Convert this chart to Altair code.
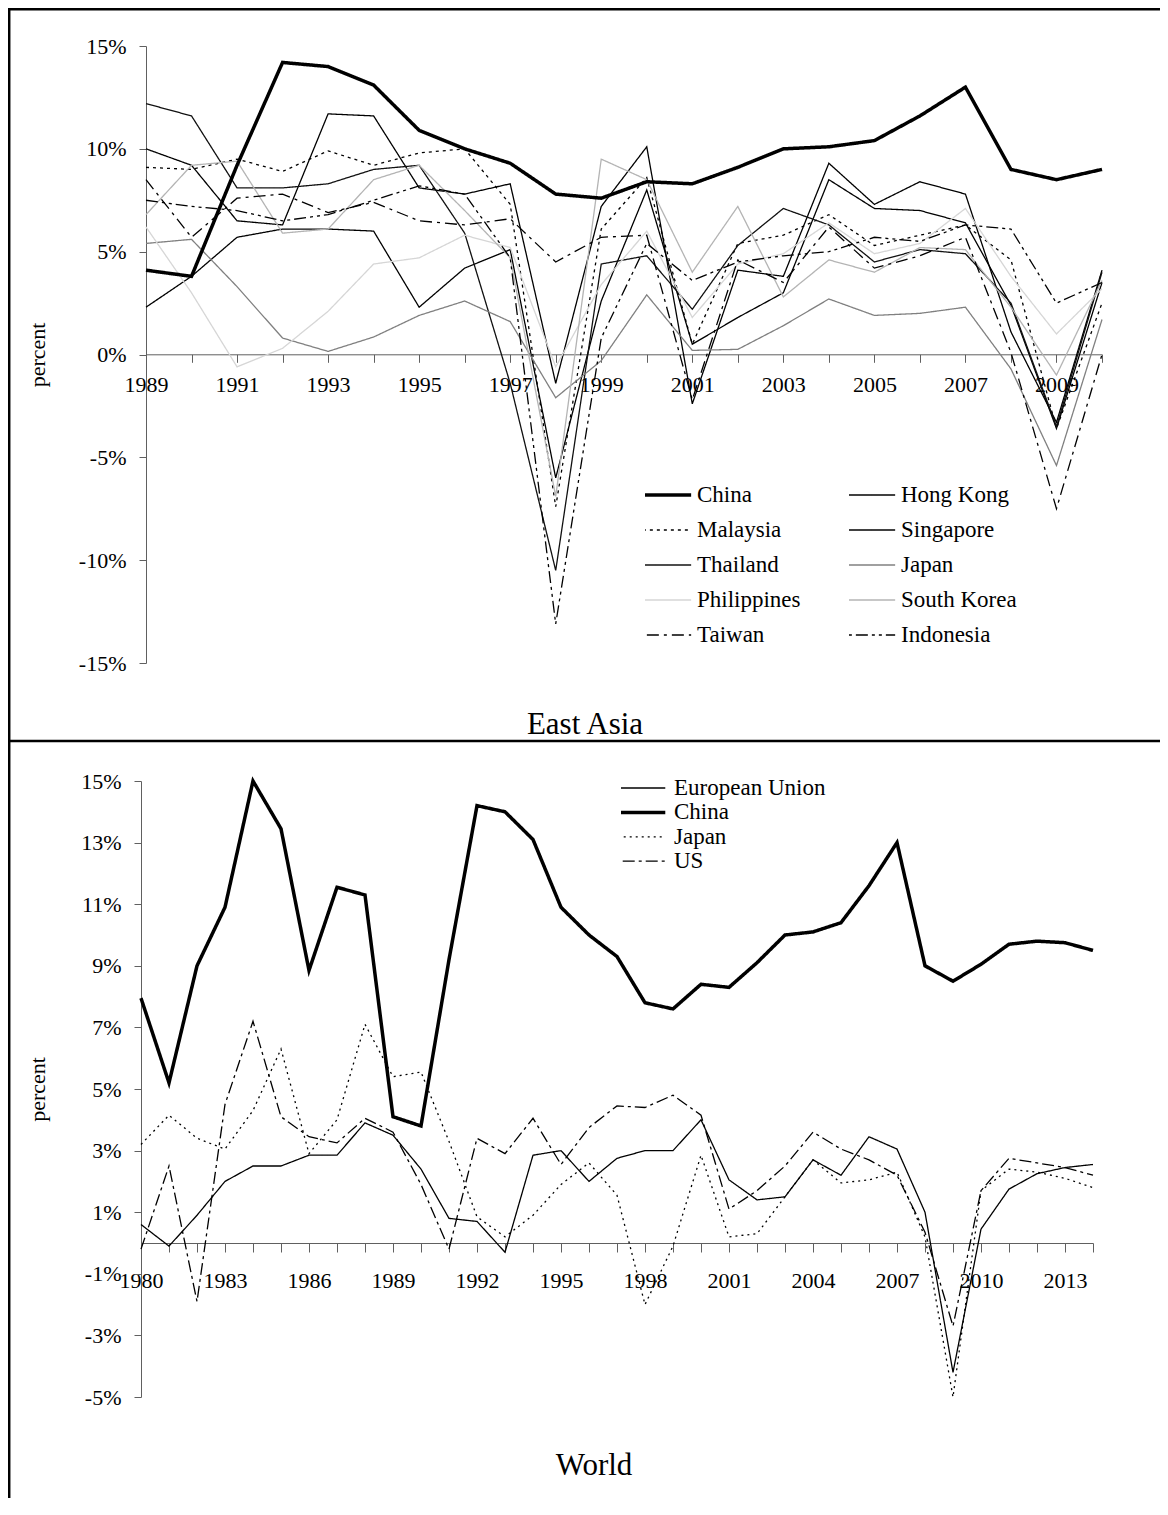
import altair as alt
import pandas as pd

# ---------------- East Asia panel data (1989-2010) ----------------
years_ea = list(range(1989, 2011))
china_ea = [4.1, 3.8, 9.2, 14.2, 14.0, 13.1, 10.9, 10.0, 9.3, 7.8, 7.6, 8.4, 8.3, 9.1, 10.0, 10.1, 10.4, 11.6, 13.0, 9.0, 8.5, 9.0]
hong_kong = [2.3, 3.8, 5.7, 6.1, 6.1, 6.0, 2.3, 4.2, 5.1, -6.0, 2.6, 8.0, 0.5, 1.8, 3.0, 8.5, 7.1, 7.0, 6.4, 2.4, -3.6, 3.5]
malaysia = [9.1, 9.0, 9.5, 8.9, 9.9, 9.2, 9.8, 10.0, 7.3, -7.4, 6.1, 8.6, 0.5, 5.4, 5.8, 6.8, 5.3, 5.8, 6.3, 4.6, -3.6, 2.5]
singapore = [10.0, 9.2, 6.5, 6.3, 11.7, 11.6, 8.1, 7.8, 8.3, -1.4, 7.2, 10.1, -2.4, 4.1, 3.8, 9.3, 7.3, 8.4, 7.8, 1.1, -3.3, 4.1]
thailand = [12.2, 11.6, 8.1, 8.1, 8.3, 9.0, 9.2, 5.9, -1.4, -10.5, 4.4, 4.8, 2.2, 5.3, 7.1, 6.3, 4.5, 5.1, 4.9, 2.5, -3.5, 4.0]
japan_ea = [5.4, 5.6, 3.3, 0.8, 0.15, 0.85, 1.9, 2.6, 1.6, -2.1, -0.3, 2.9, 0.2, 0.25, 1.4, 2.7, 1.9, 2.0, 2.3, -0.7, -5.4, 1.7]
philippines = [6.2, 3.0, -0.6, 0.3, 2.1, 4.4, 4.7, 5.8, 5.2, -0.6, 3.4, 6.0, 1.8, 4.4, 4.9, 6.4, 4.9, 5.4, 7.1, 3.8, 1.0, 3.2]
south_korea = [6.8, 9.2, 9.4, 5.9, 6.1, 8.5, 9.2, 7.0, 4.7, -6.9, 9.5, 8.5, 4.0, 7.2, 2.8, 4.6, 4.0, 5.2, 5.1, 2.3, -1.0, 3.6]
taiwan = [8.5, 5.7, 7.6, 7.8, 6.9, 7.4, 6.5, 6.3, 6.6, 4.5, 5.7, 5.8, -2.2, 4.6, 3.5, 6.2, 4.2, 4.8, 5.7, 0.1, -7.5, 0.0]
indonesia = [7.5, 7.2, 7.0, 6.5, 6.8, 7.5, 8.2, 7.8, 4.7, -13.1, 0.8, 5.4, 3.6, 4.5, 4.8, 5.0, 5.7, 5.5, 6.3, 6.1, 2.5, 3.5]

# ---------------- World panel data (1980-2014) ----------------
years_w = list(range(1980, 2015))
eu_w = [0.6, -0.1, 0.9, 2.0, 2.5, 2.5, 2.85, 2.85, 3.9, 3.5, 2.4, 0.8, 0.7, -0.3, 2.85, 3.0, 2.0, 2.75, 3.0, 3.0,
        4.0, 2.05, 1.4, 1.5, 2.7, 2.2, 3.45, 3.05, 1.0, -4.2, 0.45, 1.75, 2.25, 2.45, 2.55]
china_w = [7.95, 5.2, 9.0, 10.9, 15.0, 13.45, 8.85, 11.55, 11.3, 4.1, 3.8, 9.2, 14.2, 14.0, 13.1, 10.9, 10.0, 9.3, 7.8, 7.6,
           8.4, 8.3, 9.1, 10.0, 10.1, 10.4, 11.6, 13.0, 9.0, 8.5, 9.05, 9.7, 9.8, 9.75, 9.5]
japan_w = [3.2, 4.15, 3.4, 3.05, 4.3, 6.3, 2.9, 4.0, 7.1, 5.4, 5.55, 3.3, 0.85, 0.2, 0.9, 1.9, 2.6, 1.55, -2.0, -0.1,
           2.85, 0.2, 0.3, 1.5, 2.7, 1.95, 2.05, 2.3, 0.2, -5.0, 1.7, 2.4, 2.3, 2.1, 1.8]
us_w = [-0.2, 2.5, -1.9, 4.5, 7.2, 4.1, 3.45, 3.25, 4.05, 3.6, 1.9, -0.2, 3.4, 2.9, 4.05, 2.55, 3.75, 4.45, 4.4, 4.8,
        4.15, 1.1, 1.7, 2.5, 3.6, 3.05, 2.7, 2.2, 0.35, -2.7, 1.7, 2.75, 2.6, 2.45, 2.2]

ea_series = {
    "Hong Kong": hong_kong, "Malaysia": malaysia, "Singapore": singapore, "Thailand": thailand,
    "Japan": japan_ea, "Philippines": philippines, "South Korea": south_korea, "Taiwan": taiwan,
    "Indonesia": indonesia, "China": china_ea,
}
w_series = {"European Union": eu_w, "Japan": japan_w, "US": us_w, "China": china_w}


def long_df(years, series):
    rows = []
    for name, vals in series.items():
        for yr, v in zip(years, vals):
            rows.append({"year": yr, "country": name, "value": v})
    return pd.DataFrame(rows)


ea_df = long_df(years_ea, ea_series)
w_df = long_df(years_w, w_series)

# legend order (column-major fill for 2 columns)
ea_order = ["China", "Malaysia", "Thailand", "Philippines", "Taiwan",
            "Hong Kong", "Singapore", "Japan", "South Korea", "Indonesia"]
ea_colors = ["#000000", "#000000", "#111111", "#d6d6d6", "#000000",
             "#000000", "#000000", "#808080", "#b4b4b4", "#000000"]
ea_dashes = [[1, 0], [3, 4], [1, 0], [1, 0], [12, 5, 3, 5],
             [1, 0], [1, 0], [1, 0], [1, 0], [12, 4, 3, 4, 3, 4]]

w_order = ["European Union", "China", "Japan", "US"]
w_colors = ["#000000", "#000000", "#000000", "#000000"]
w_dashes = [[1, 0], [1, 0], [2, 4], [12, 4, 3, 4]]

FONT = "Liberation Serif"
W, H = 1152, 1490
AX = "#606060"

# ---------------- geometry (svg px) ----------------
ea_x_range = [138, 1094]
ea_y_range = [655, 38]
ea_zero_y = 346.3
w_x_range = [133, 1085]
w_y_range = [1389, 773]
w_zero_y = 1235

width_expr = "datum.country === 'China' ? 3.5 : 1.3"
legend_width_expr = "datum.value === 'China' ? 3.5 : 1.3"


def make_legend(x, y, cols, size, label_off, rowpad, colpad, clip):
    return alt.Legend(
        title=None, orient="none", legendX=x, legendY=y, direction="vertical", columns=cols,
        symbolType="stroke", symbolSize=size, symbolStrokeWidth=alt.ExprRef(legend_width_expr),
        labelFont=FONT, labelFontSize=23, labelColor="#000000", labelOffset=label_off, labelLimit=400,
        rowPadding=rowpad, columnPadding=colpad, padding=0, clipHeight=clip,
    )


ea_legend = make_legend(637, 475, 2, 4800, 29, 11, 48, 24)
w_legend = make_legend(613, 768, 1, 4300, 30, 0.4, 10, 24)


def x_axis(offset, values, start, step, pad, tick):
    return alt.Axis(
        orient="bottom", offset=offset, values=values, title=None, grid=False,
        labelExpr=f"(datum.value - {start}) % {step} === 0 ? '' + datum.value : ''",
        labelFont=FONT, labelFontSize=22, labelColor="#000000", labelPadding=pad,
        labelOverlap=False, labelFlush=False, labelBound=False,
        tickSize=tick, tickColor=AX, domainColor=AX, tickWidth=1, domainWidth=1,
    )


def y_axis(offset, values, title_x, title_y):
    return alt.Axis(
        orient="left", offset=offset, values=values, grid=False,
        labelExpr="datum.value + '%'",
        labelFont=FONT, labelFontSize=22, labelColor="#000000", labelPadding=13,
        labelOverlap=False, labelFlush=False,
        tickSize=7, tickColor=AX, domainColor=AX, tickWidth=1, domainWidth=1,
        title="percent", titleFont=FONT, titleFontSize=22, titleFontWeight="normal",
        titleColor="#000000", titleX=title_x, titleY=title_y, titleAngle=270,
        titleAlign="center", titleBaseline="middle",
    )


ea_lines = alt.Chart(ea_df).transform_calculate(w=width_expr).mark_line().encode(
    x=alt.X("year:Q", scale=alt.Scale(domain=[1989, 2010], range=ea_x_range, nice=False, zero=False),
            axis=x_axis(-(H - ea_zero_y), years_ea, 1989, 2, 12, 8)),
    y=alt.Y("value:Q", scale=alt.Scale(domain=[-15, 15], range=ea_y_range, nice=False, zero=False),
            axis=y_axis(-ea_x_range[0], [-15, -10, -5, 0, 5, 10, 15], -109, (ea_y_range[0] + ea_y_range[1]) / 2)),
    color=alt.Color("country:N", scale=alt.Scale(domain=ea_order, range=ea_colors), legend=ea_legend),
    strokeDash=alt.StrokeDash("country:N", scale=alt.Scale(domain=ea_order, range=ea_dashes), legend=ea_legend),
    strokeWidth=alt.StrokeWidth("w:Q", scale=None),
)

w_lines = alt.Chart(w_df).transform_calculate(w=width_expr).mark_line().encode(
    x=alt.X("year:Q", scale=alt.Scale(domain=[1980, 2014], range=w_x_range, nice=False, zero=False),
            axis=x_axis(-(H - w_zero_y), years_w, 1980, 3, 18, 9)),
    y=alt.Y("value:Q", scale=alt.Scale(domain=[-5, 15], range=w_y_range, nice=False, zero=False),
            axis=y_axis(-w_x_range[0], [-5, -3, -1, 1, 3, 5, 7, 9, 11, 13, 15], -104, (w_y_range[0] + w_y_range[1]) / 2)),
    color=alt.Color("country:N", scale=alt.Scale(domain=w_order, range=w_colors), legend=w_legend),
    strokeDash=alt.StrokeDash("country:N", scale=alt.Scale(domain=w_order, range=w_dashes), legend=w_legend),
    strokeWidth=alt.StrokeWidth("w:Q", scale=None),
)

one = pd.DataFrame({"k": [0]})


def hline(y, x1, x2, sw):
    return alt.Chart(one).mark_rule(color="#000000", strokeWidth=sw).encode(
        x=alt.value(x1), x2=alt.value(x2), y=alt.value(y))


def vline(x, y1, y2, sw):
    return alt.Chart(one).mark_rule(color="#000000", strokeWidth=sw).encode(
        x=alt.value(x), y=alt.value(y1), y2=alt.value(y2))


def label(text, x, y, size):
    return alt.Chart(one).mark_text(text=text, font=FONT, fontSize=size, color="#000000",
                                    align="center", baseline="alphabetic").encode(
        x=alt.value(x), y=alt.value(y))


frame = [
    hline(1.2, 0, W, 2.5),
    hline(733, 0, W, 2.5),
    vline(1.2, 0, H, 2.5),
    label("East Asia", 577, 726, 31),
    label("World", 586, 1467, 31),
]

chart = alt.layer(ea_lines, w_lines, *frame).resolve_scale(
    x="independent", y="independent", color="independent", strokeDash="independent"
).resolve_legend(color="independent", strokeDash="independent").properties(
    width=W, height=H, autosize=alt.AutoSizeParams(type="none"), padding=0, background="white"
).configure_view(stroke=None)

chart.save("out.html", embed_options={"renderer": "svg", "actions": False})
